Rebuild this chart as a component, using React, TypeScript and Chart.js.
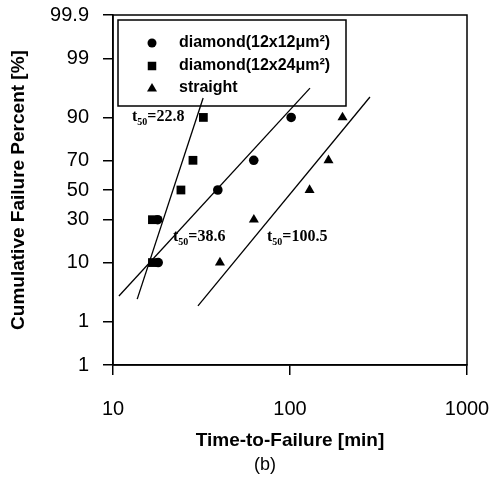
import React, { useEffect, useRef } from 'react';
import { Chart, registerables } from 'chart.js';

Chart.register(...registerables);

// ---- data ----
const percentLevels = [10, 30, 50, 70, 90];
const diamond12x12Times = [18.0, 17.9, 39.1, 62.4, 101.5];
const diamond12x24Times = [16.7, 16.7, 24.2, 28.3, 32.4];
const straightTimes = [40.2, 62.5, 129, 165, 198];

const fit12x24Times = [13.7, 32.3];
const fit12x24Percents = [2.7, 94.8];
const fit12x12Times = [10.8, 129.7];
const fit12x12Percents = [3.06, 96.4];
const fitStraightTimes = [30.2, 283];
const fitStraightPercents = [2.03, 94.97];

const seriesLabels = ['diamond(12x12\u03bcm\u00b2)', 'diamond(12x24\u03bcm\u00b2)', 'straight'];
const t50Values = ['22.8', '38.6', '100.5'];

const xTickValues = [10, 100, 1000];
const yTickPercents = [0.1, 1, 10, 30, 50, 70, 90, 99, 99.9];
const yTickLabels = ['1', '1', '10', '30', '50', '70', '90', '99', '99.9'];

// inverse standard normal CDF (probability-paper scale)
function normInv(p: number): number {
  const a = [-3.969683028665376e1, 2.209460984245205e2, -2.759285104469687e2, 1.38357751867269e2, -3.066479806614716e1, 2.506628277459239];
  const b = [-5.447609879822406e1, 1.615858368580409e2, -1.556989798598866e2, 6.680131188771972e1, -1.328068155288572e1];
  const c = [-7.784894002430293e-3, -3.223964580411365e-1, -2.400758277161838, -2.549732539343734, 4.374664141464968, 2.938163982698783];
  const d = [7.784695709041462e-3, 3.224671290700398e-1, 2.445134137142996, 3.754408661907416];
  const pl = 0.02425;
  const ph = 1 - pl;
  let q: number, r: number;
  if (p < pl) {
    q = Math.sqrt(-2 * Math.log(p));
    return (((((c[0] * q + c[1]) * q + c[2]) * q + c[3]) * q + c[4]) * q + c[5]) / ((((d[0] * q + d[1]) * q + d[2]) * q + d[3]) * q + 1);
  }
  if (p <= ph) {
    q = p - 0.5;
    r = q * q;
    return ((((((a[0] * r + a[1]) * r + a[2]) * r + a[3]) * r + a[4]) * r + a[5]) * q) / (((((b[0] * r + b[1]) * r + b[2]) * r + b[3]) * r + b[4]) * r + 1);
  }
  q = Math.sqrt(-2 * Math.log(1 - p));
  return -(((((c[0] * q + c[1]) * q + c[2]) * q + c[3]) * q + c[4]) * q + c[5]) / ((((d[0] * q + d[1]) * q + d[2]) * q + d[3]) * q + 1);
}
const probit = (percent: number) => normInv(percent / 100);

const pts = (times: number[], percents: number[]) => times.map((t, i) => ({ x: t, y: probit(percents[i]) }));

const SANS = '"Liberation Sans", Arial, sans-serif';
const SERIF = '"Liberation Serif", "Times New Roman", serif';

const overlayPlugin = {
  id: 'overlay',
  afterDraw(chart: any) {
    const ctx = chart.ctx;
    const ca = chart.chartArea;
    ctx.save();
    // frame
    ctx.strokeStyle = '#000';
    ctx.lineWidth = 1.5;
    ctx.strokeRect(ca.left, ca.top, ca.right - ca.left, ca.bottom - ca.top);

    // legend box
    ctx.lineWidth = 1.5;
    ctx.strokeRect(118, 20, 228, 86);
    const rows = [43, 66, 88];
    ctx.fillStyle = '#000';
    // circle
    ctx.beginPath();
    ctx.arc(152, rows[0], 4.5, 0, Math.PI * 2);
    ctx.fill();
    // square
    ctx.fillRect(152 - 4.25, rows[1] - 4.25, 8.5, 8.5);
    // triangle
    ctx.beginPath();
    ctx.moveTo(152, rows[2] - 5);
    ctx.lineTo(157, rows[2] + 3.5);
    ctx.lineTo(147, rows[2] + 3.5);
    ctx.closePath();
    ctx.fill();
    ctx.font = 'bold 16px ' + SANS;
    ctx.textBaseline = 'middle';
    ctx.textAlign = 'left';
    seriesLabels.forEach((lab, i) => ctx.fillText(lab, 179, rows[i]));

    // t50 annotations
    const annots = [
      { x: 132, y: 121, v: t50Values[0] },
      { x: 173, y: 241, v: t50Values[1] },
      { x: 267, y: 241, v: t50Values[2] },
    ];
    ctx.textBaseline = 'alphabetic';
    annots.forEach((a) => {
      ctx.font = 'bold 16px ' + SERIF;
      ctx.fillText('t', a.x, a.y);
      let x = a.x + ctx.measureText('t').width;
      ctx.font = 'bold 10px ' + SERIF;
      ctx.fillText('50', x, a.y + 4);
      x += ctx.measureText('50').width;
      ctx.font = 'bold 16px ' + SERIF;
      ctx.fillText('=' + a.v, x, a.y);
    });

    // (b)
    ctx.font = '18px ' + SANS;
    ctx.textAlign = 'center';
    ctx.textBaseline = 'middle';
    ctx.fillText('(b)', 265, 465);
    ctx.restore();
  },
};

export default function App() {
  const ref = useRef<HTMLCanvasElement | null>(null);
  useEffect(() => {
    if (!ref.current) return;
    Chart.defaults.font.family = SANS;
    const lineDs = (times: number[], percents: number[]) => ({
      data: pts(times, percents),
      showLine: true,
      borderColor: '#000',
      borderWidth: 1.3,
      pointRadius: 0,
      pointHoverRadius: 0,
      fill: false,
    });
    const chart = new Chart(ref.current, {
      type: 'scatter',
      data: {
        datasets: [
          {
            label: seriesLabels[0],
            data: pts(diamond12x12Times, percentLevels),
            pointStyle: 'circle',
            pointRadius: 4.8,
            backgroundColor: '#000',
            borderColor: '#000',
            borderWidth: 0,
          },
          {
            label: seriesLabels[1],
            data: pts(diamond12x24Times, percentLevels),
            pointStyle: 'rect',
            pointRadius: 6.2,
            backgroundColor: '#000',
            borderColor: '#000',
            borderWidth: 0,
          },
          {
            label: seriesLabels[2],
            data: pts(straightTimes, percentLevels),
            pointStyle: 'triangle',
            pointRadius: 5.8,
            backgroundColor: '#000',
            borderColor: '#000',
            borderWidth: 0,
          },
          lineDs(fit12x24Times, fit12x24Percents),
          lineDs(fit12x12Times, fit12x12Percents),
          lineDs(fitStraightTimes, fitStraightPercents),
        ] as any,
      },
      options: {
        animation: false,
        responsive: false,
        layout: { padding: { top: 15, right: 27, bottom: 0, left: 0 } },
        plugins: { legend: { display: false }, tooltip: { enabled: false }, title: { display: false } },
        scales: {
          x: {
            type: 'logarithmic',
            min: 10,
            max: 1000,
            afterBuildTicks: (scale: any) => {
              scale.ticks = xTickValues.map((v) => ({ value: v }));
            },
            afterFit: (scale: any) => {
              scale.height = 118;
              scale.paddingLeft = 0;
              scale.paddingRight = 0;
            },
            ticks: {
              color: '#000',
              font: { size: 20 },
              padding: 22,
              maxRotation: 0,
              autoSkip: false,
              callback: (v: any) => String(v),
            },
            grid: { display: true, drawOnChartArea: false, drawTicks: true, tickLength: 10, color: '#000', lineWidth: 1.5 },
            border: { display: true, color: '#000', width: 1.5 },
            title: {
              display: true,
              text: 'Time-to-Failure [min]',
              color: '#000',
              font: { size: 19, weight: 'bold' },
              padding: { top: 0, bottom: 31 },
            },
          },
          y: {
            type: 'linear',
            min: probit(0.1),
            max: probit(99.9),
            afterBuildTicks: (scale: any) => {
              scale.ticks = yTickPercents.map((p) => ({ value: probit(p) }));
            },
            afterFit: (scale: any) => {
              scale.width = 113;
              scale.paddingTop = 0;
              scale.paddingBottom = 0;
            },
            ticks: {
              color: '#000',
              font: { size: 20 },
              padding: 14,
              autoSkip: false,
              callback: (_v: any, i: number) => yTickLabels[i],
            },
            grid: { display: true, drawOnChartArea: false, drawTicks: true, tickLength: 10, color: '#000', lineWidth: 1.5 },
            border: { display: true, color: '#000', width: 1.5 },
            title: {
              display: true,
              text: 'Cumulative Failure Percent [%]',
              color: '#000',
              font: { size: 19, weight: 'bold' },
              padding: { top: 7, bottom: 0 },
            },
          },
        },
      } as any,
      plugins: [overlayPlugin],
    });
    return () => chart.destroy();
  }, []);
  return (
    <div style={{ position: 'absolute', left: 0, top: 0, width: 494, height: 483, background: '#fff' }}>
      <canvas ref={ref} width={494} height={483} style={{ display: 'block' }} />
    </div>
  );
}
